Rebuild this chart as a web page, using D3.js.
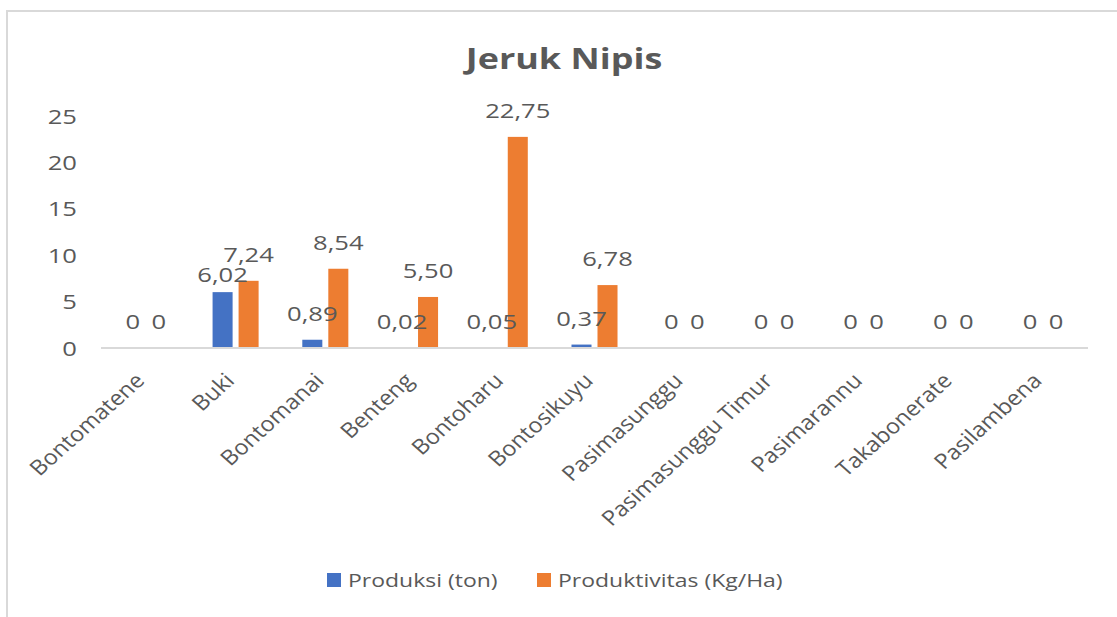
<!DOCTYPE html>
<html>
<head>
<meta charset="utf-8">
<script src="https://cdn.jsdelivr.net/npm/d3@7"></script>
<style>
  html, body { margin: 0; padding: 0; background: #fff; }
  svg { display: block; }
  text { font-family: "Open Sans", "Noto Sans", sans-serif; fill: #595959; }
</style>
</head>
<body>
<svg id="chart" width="1117" height="617"></svg>
<script>
// Jeruk Nipis: production and productivity per village
const categories = ["Bontomatene", "Buki", "Bontomanai", "Benteng", "Bontoharu", "Bontosikuyu",
  "Pasimasunggu", "Pasimasunggu Timur", "Pasimarannu", "Takabonerate", "Pasilambena"];
const produksi = [0, 6.02, 0.89, 0.02, 0.05, 0.37, 0, 0, 0, 0, 0];
const produktivitas = [0, 7.24, 8.54, 5.50, 22.75, 6.78, 0, 0, 0, 0, 0];
const seriesNames = ["Produksi (ton)", "Produktivitas (Kg/Ha)"];
const seriesColors = ["#4472C4", "#ED7D31"];
const yTicks = [0, 5, 10, 15, 20, 25];

const svg = d3.select("#chart");
const SX = 1.28;     // horizontal stretch for value and tick labels
const SX_CAT = 1.12; // horizontal stretch for rotated category labels

// chart frame
svg.append("rect")
  .attr("x", 7).attr("y", 11).attr("width", 1130).attr("height", 640)
  .attr("fill", "#fff").attr("stroke", "#d9d9d9").attr("stroke-width", 2);

const plot = { left: 101, right: 1088, top: 116, bottom: 348 };

const x0 = d3.scaleBand().domain(categories).range([plot.left, plot.right]);
const x1 = d3.scaleBand().domain(seriesNames).range([0, x0.bandwidth()])
  .paddingInner(0.23).paddingOuter(0.84);
const y = d3.scaleLinear().domain([0, 25]).range([plot.bottom, plot.top]);

// title
svg.append("text")
  .attr("transform", `translate(564,69) scale(1.24,1)`)
  .attr("text-anchor", "middle")
  .style("font-size", "29px").style("font-weight", "700")
  .text("Jeruk Nipis");

// y axis labels
const yAxis = svg.append("g").attr("transform", `translate(${plot.left},0)`)
  .call(d3.axisLeft(y).tickValues(yTicks).tickSize(0).tickPadding(0).tickFormat(d3.format("d")));
yAxis.select(".domain").remove();
yAxis.selectAll(".tick text")
  .attr("x", null).attr("dy", null)
  .attr("transform", `translate(-24,7) scale(${SX},1)`)
  .attr("text-anchor", "end")
  .style("font-size", "20px").style("font-family", null).style("fill", "#595959");

// bars
const rows = categories.map((c, i) => ({ cat: c, vals: [produksi[i], produktivitas[i]] }));
const groups = svg.append("g").selectAll("g").data(rows).join("g")
  .attr("transform", d => `translate(${x0(d.cat)},0)`);

groups.selectAll("rect").data(d => d.vals.map((v, k) => ({ v, k })))
  .join("rect")
  .attr("x", d => x1(seriesNames[d.k]))
  .attr("width", x1.bandwidth())
  .attr("y", d => y(d.v))
  .attr("height", d => y(0) - y(d.v))
  .attr("fill", d => seriesColors[d.k]);

// x axis line
svg.append("line")
  .attr("x1", plot.left).attr("x2", plot.right)
  .attr("y1", plot.bottom).attr("y2", plot.bottom)
  .attr("stroke", "#d9d9d9").attr("stroke-width", 2);

// value labels, placed above each bar; a label that would collide with its
// neighbour in the same group drops one line below it
const fmt = v => v === 0 ? "0" : d3.format(".2f")(v).replace(".", ",");
const LINE = 20;
groups.each(function (d) {
  const labs = d.vals.map((v, k) => ({
    v, k,
    cx: x1(seriesNames[k]) + x1.bandwidth() / 2,
    by: y(v) - 19,
    w: fmt(v).length * 11.5 * SX
  }));
  const [a, b] = labs;
  const hOverlap = Math.abs(a.cx - b.cx) < (a.w + b.w) / 2;
  if (hOverlap && Math.abs(a.by - b.by) < LINE) {
    const lower = a.by >= b.by ? a : b, upper = lower === a ? b : a;
    lower.by = upper.by + LINE;
  }
  d3.select(this).selectAll("text.val").data(labs).join("text").attr("class", "val")
    .attr("transform", l => `translate(${l.cx},${l.by}) scale(${SX},1)`)
    .attr("text-anchor", "middle")
    .style("font-size", "20px")
    .text(l => fmt(l.v));
});

// category labels
const xAxis = svg.append("g").attr("transform", `translate(0,${plot.bottom})`)
  .call(d3.axisBottom(x0).tickSize(0).tickPadding(0));
xAxis.select(".domain").remove();
xAxis.selectAll(".tick text")
  .attr("y", null).attr("dy", null)
  .attr("transform", `translate(0,34) scale(${SX_CAT},1) rotate(-45)`)
  .attr("text-anchor", "end")
  .style("font-size", "21px").style("font-family", null).style("fill", "#595959");

// legend
const legendX = [327, 537];
const legend = svg.append("g").selectAll("g").data(seriesNames).join("g")
  .attr("transform", (d, i) => `translate(${legendX[i]},573)`);
legend.append("rect").attr("width", 14).attr("height", 14)
  .attr("fill", (d, i) => seriesColors[i]);
legend.append("text")
  .attr("transform", `translate(21,14) scale(1.21,1)`)
  .style("font-size", "19px")
  .text(d => d);
</script>
</body>
</html>
